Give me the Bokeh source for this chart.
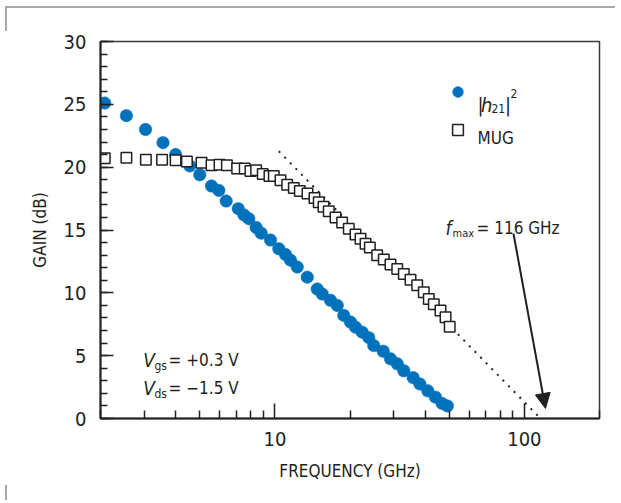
from bokeh.plotting import figure
from bokeh.models import (Range1d, FixedTicker, Label, Arrow, NormalHead,
                          Legend, LegendItem, NumeralTickFormatter)
from bokeh.embed import file_html
from bokeh.resources import INLINE

# ---------------- data ----------------
h21_freq = [2.08, 2.54, 3.03, 3.56, 4.00, 4.56, 5.00, 5.57, 5.96, 6.38, 7.13, 7.51,
            7.86, 8.41, 8.81, 9.60, 10.37, 11.03, 11.55, 12.29, 13.48, 14.78, 15.48,
            16.71, 17.78, 18.89, 20.09, 21.04, 22.38, 23.79, 24.91, 27.18, 29.06,
            30.93, 32.86, 35.84, 38.1, 41.0, 44.0, 46.8, 49.1]
h21_gain = [25.1, 24.1, 23.0, 21.95, 21.0, 20.1, 19.4, 18.5, 18.15, 17.3, 16.7, 16.2,
            15.9, 15.2, 14.75, 14.2, 13.5, 13.05, 12.6, 12.05, 11.25, 10.3, 9.9,
            9.4, 9.0, 8.2, 7.67, 7.27, 6.87, 6.43, 5.8, 5.35, 4.75,
            4.35, 3.8, 3.25, 2.75, 2.2, 1.7, 1.2, 1.0]

mug_freq = [2.08, 2.54, 3.04, 3.53, 4.00, 4.44, 5.08, 5.57, 6.00, 6.42, 7.06, 7.57,
            7.98, 8.41, 8.94, 9.51, 9.90, 10.53, 11.2, 11.91, 12.59, 13.51, 14.41,
            14.99, 15.66, 16.44, 17.5, 18.6, 19.78, 21.04, 22.04, 23.08, 24.02,
            25.7, 27.32, 29.06, 30.93, 32.86, 34.96, 37.18, 39.52, 41.38, 43.34,
            46.1, 48.3, 50.2]
mug_gain = [20.7, 20.75, 20.6, 20.6, 20.55, 20.45, 20.35, 20.15, 20.2, 20.15, 19.9, 19.9,
            19.7, 19.75, 19.45, 19.3, 19.3, 18.95, 18.6, 18.35, 18.1, 17.9, 17.55,
            17.2, 16.85, 16.5, 16.0, 15.6, 15.1, 14.65, 14.3, 13.9, 13.6,
            13.0, 12.65, 12.25, 11.9, 11.5, 11.05, 10.6, 10.05, 9.5, 9.1,
            8.6, 8.05, 7.3]

# -20 dB/decade extrapolation of MUG to fmax
fit_freq = [10.37, 116.0]
fit_gain = [21.27, 0.0]

fmax_ghz = 116
x_major = [10, 100]
x_minor = [2, 3, 4, 5, 6, 7, 8, 9, 20, 30, 40, 50, 60, 70, 80, 90, 200]
y_major = [0, 5, 10, 15, 20, 25, 30]
y_minor = list(range(0, 31))

# ---------------- style ----------------
FONT = "DejaVu Sans Condensed"
INK = "#231f20"
BLUE = "#0072bc"

p = figure(width=615, height=500, x_axis_type="log",
           x_range=Range1d(2, 200), y_range=Range1d(0, 30),
           output_backend="svg", toolbar_location=None,
           min_border_left=100, min_border_right=16,
           min_border_top=41, min_border_bottom=82)
p.border_fill_color = None
p.background_fill_color = "white"
p.outline_line_color = "#3a3a3a"
p.outline_line_width = 1.5
p.grid.visible = False
p.styles = {
    "background-image": "linear-gradient(#a8a8a8,#a8a8a8), linear-gradient(#a8a8a8,#a8a8a8), linear-gradient(#a8a8a8,#a8a8a8)",
    "background-size": "100% 2px, 2px 25px, 2px 15px",
    "background-position": "6px 6px, 5px 6px, 5px 100%",
    "background-repeat": "no-repeat",
}

xa = p.xaxis[0]
ya = p.yaxis[0]
xa.ticker = FixedTicker(ticks=x_major, minor_ticks=x_minor)
ya.ticker = FixedTicker(ticks=y_major, minor_ticks=y_minor)
xa.formatter = NumeralTickFormatter(format="0")
for ax in (xa, ya):
    ax.axis_line_color = INK
    ax.axis_line_width = 2
    ax.major_tick_line_color = INK
    ax.minor_tick_line_color = INK
    ax.major_tick_line_width = 1.5
    ax.minor_tick_line_width = 1.5
    ax.major_tick_out = 0
    ax.minor_tick_out = 0
    ax.major_label_text_font = FONT
    ax.major_label_text_font_size = "20px"
    ax.major_label_text_color = INK
    ax.axis_label_text_font = FONT
    ax.axis_label_text_font_size = "17px"
    ax.axis_label_text_font_style = "normal"
    ax.axis_label_text_color = INK
xa.major_tick_in = 15
xa.minor_tick_in = 8
ya.major_tick_in = 13
ya.minor_tick_in = 7
xa.major_label_standoff = 13
ya.major_label_standoff = 14
xa.axis_label = "FREQUENCY (GHz)"
ya.axis_label = "GAIN (dB)"
xa.axis_label_standoff = 12
ya.axis_label_standoff = 11

p.line(fit_freq, fit_gain, line_color=INK, line_width=2, line_dash="2 6")
r_h21 = p.scatter(h21_freq, h21_gain, marker="circle", size=12.5,
                  fill_color=BLUE, line_color=BLUE, line_width=0.5)
r_mug = p.scatter(mug_freq, mug_gain, marker="square", size=10.5,
                  fill_color="white", line_color=INK, line_width=1.5)

leg = Legend(items=[LegendItem(label=" ", renderers=[r_h21]),
                    LegendItem(label=" ", renderers=[r_mug])],
             location=(344, 275), orientation="vertical",
             glyph_width=27, glyph_height=27, spacing=11, padding=0, margin=0,
             label_text_font_size="8px", label_standoff=0,
             border_line_color=None, background_fill_alpha=0)
p.add_layout(leg)


def lab(x, y, text, size="18px", style="normal", align="left"):
    p.add_layout(Label(x=x, y=y, text=text, text_font=FONT, text_font_size=size,
                       text_font_style=style, text_color=INK, text_align=align,
                       text_baseline="alphabetic"))


# legend texts
lab(64.9, 24.91, "|", size="20px")
lab(67.0, 24.91, "h", size="20px", style="italic")
lab(73.8, 24.67, "21", size="12px")
lab(83.6, 24.91, "|", size="20px")
lab(88.0, 25.86, "2", size="12px")
lab(64.9, 22.36, "MUG", size="17px")

# fmax annotation
lab(48.3, 15.12, "f", size="19px", style="italic")
lab(51.5, 14.72, "max", size="11px")
lab(64.3, 15.12, "= %d GHz" % fmax_ghz, size="17px")
p.add_layout(Arrow(x_start=90.4, y_start=14.72, x_end=121.5, y_end=0.8,
                   line_color=INK, line_width=2,
                   end=NormalHead(size=15, fill_color=INK, line_color=INK)))

# bias conditions
lab(2.97, 4.62, "V", size="19px", style="italic")
lab(3.29, 4.14, "gs", size="12px")
lab(3.75, 4.62, "= +0.3 V", size="17px")
lab(2.97, 2.39, "V", size="19px", style="italic")
lab(3.29, 1.91, "ds", size="12px")
lab(3.75, 2.39, "= \u22121.5 V", size="17px")

open("out.html", "w").write(file_html(p, INLINE))
